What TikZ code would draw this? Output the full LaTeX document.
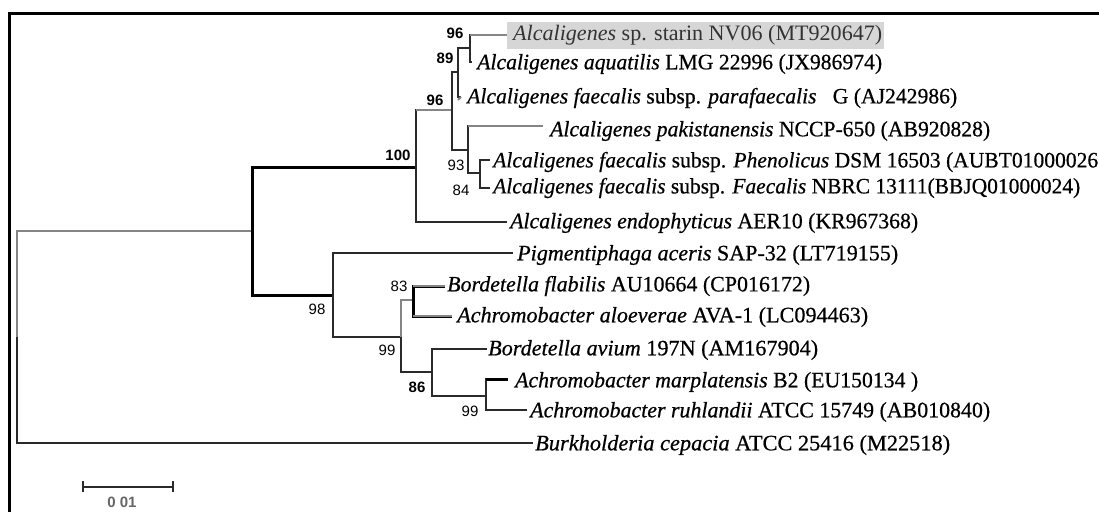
\documentclass[tikz,border=0pt]{standalone}
\usepackage{graphicx}
\usepackage{fontspec}
\setmainfont{Liberation Serif}
\newfontfamily\heavy[FakeBold=0.6]{Liberation Serif}
\newfontfamily\bsfont{Liberation Sans}
\newcommand{\fitw}[2]{\resizebox{#1}{\height}{#2}}
\definecolor{treeK}{HTML}{2A2A2A}
\definecolor{treeG}{HTML}{858585}
\definecolor{hilite}{HTML}{D6D6D6}
\begin{document}
\begin{tikzpicture}[x=1pt,y=-1pt,
  br/.style={line width=2pt,draw=treeK},
  brg/.style={line width=2pt,draw=treeG},
  brb/.style={line width=3pt,draw=black},
  leaf/.style={anchor=west,inner sep=0pt,font=\heavy\fontsize{22}{26}\selectfont},
  bs/.style={inner sep=0pt,font=\bsfont\fontsize{15}{17}\selectfont},
  bsb/.style={inner sep=0pt,font=\bsfont\bfseries\fontsize{15}{17}\selectfont}]
\useasboundingbox (0,0) rectangle (1099,512);
% frame
\draw[line width=3pt,line join=miter] (9,512) -- (9,13) -- (1099,13);
% internal nodes
\coordinate (nR) at (17,337);
\coordinate (nA) at (252,231);
\coordinate (n100) at (416,167);
\coordinate (n96L) at (452,110);
\coordinate (n89) at (458,72);
\coordinate (n96T) at (470,48);
\coordinate (nX) at (468,150);
\coordinate (n93) at (480,173);
\coordinate (n98) at (333,295);
\coordinate (n99) at (401,337);
\coordinate (n83) at (413,300);
\coordinate (n86) at (432,372);
\coordinate (n99L) at (486,396);
% tips
\coordinate (t1) at (507,35);
\coordinate (t2) at (472,62);
\coordinate (t3) at (461,97);
\coordinate (t4) at (543,126);
\coordinate (t5) at (490,160);
\coordinate (t6) at (490,188);
\coordinate (t7) at (507,222);
\coordinate (t8) at (513,253);
\coordinate (t9) at (445,286);
\coordinate (t10) at (452,316);
\coordinate (t11) at (487,349);
\coordinate (t12) at (508,379);
\coordinate (t13) at (527,410);
\coordinate (t14) at (533,443);
% branches
\draw[brg] (nR) |- (nA);
\draw[br] (nR) |- (t14);
\draw[brb] (nA) |- (n100);
\draw[brb] (nA) |- (n98);
\draw[br] (n100) |- (n96L);
\draw[br] (n100) |- (t7);
\draw[brg,line width=2.5pt] (n100 |- n96L) -- (n96L);
\draw[br] (n96L) |- (n89);
\draw[br] (n96L) |- (nX);
\draw[br] (n89) |- (n96T);
\draw[br] (n89) |- (t3);
\draw[brg] ([yshift=-3pt]n89 |- t3) -- (t3);
\draw[br] (n96T) |- (t1);
\draw[brg] (n96T |- t1) -- (t1);
\draw[br] (n96T) |- (t2);
\draw[br] (nX) |- (t4);
\draw[brg,line width=2.5pt] (nX |- t4) -- (t4);
\draw[br] (nX) |- (n93);
\draw[br] (n93) |- (t5);
\draw[br] (n93) |- (t6);
\draw[br] (n98) |- (t8);
\draw[br] (n98) |- (n99);
\draw[brg] (n99) |- (n83);
\draw[br] (n99) |- (n86);
\draw[brb] (n83) |- (t9);
\draw[brb] (n83) |- (t10);
\draw[brg] (n83 |- t9) -- (t9);
\draw[brg,line width=2.5pt] (n83 |- t10) -- (t10);
\draw[br] (n86) |- (t11);
\draw[br] (n86) |- (n99L);
\draw[br] (n99L) |- (t12);
\draw[brb] (n99L |- t12) -- (t12);
\draw[br] (n99L) |- (t13);
% leaf labels
\node[anchor=west,inner xsep=0pt,inner ysep=3.5pt,fill=hilite,text=black!80,
  font=\fontsize{22}{26}\selectfont] (l1) at (507,35.5)
  {\hspace*{6pt}\fitw{369pt}{\textit{Alcaligenes} sp. starin NV06 (MT920647)}\hspace*{2pt}};
\node[leaf] (l2) at (477,64) {\fitw{405pt}{\textit{Alcaligenes aquatilis} LMG 22996 (JX986974)}};
\node[leaf] (l3) at (467,98) {\fitw{490pt}{\textit{Alcaligenes faecalis} subsp. \textit{parafaecalis}\ \ \ G (AJ242986)}};
\node[leaf] (l4) at (550,131) {\fitw{440pt}{\textit{Alcaligenes pakistanensis} NCCP-650 (AB920828)}};
\node[leaf] (l5) at (493,162) {\fitw{605pt}{\textit{Alcaligenes faecalis} subsp. \textit{Phenolicus} DSM 16503 (AUBT01000026}};
\node[leaf] (l6) at (493,188) {\fitw{587pt}{\textit{Alcaligenes faecalis} subsp. \textit{Faecalis} NBRC 13111(BBJQ01000024)}};
\node[leaf] (l7) at (510,223) {\fitw{408pt}{\textit{Alcaligenes endophyticus} AER10 (KR967368)}};
\node[leaf] (l8) at (517,255) {\fitw{381pt}{\textit{Pigmentiphaga aceris} SAP-32 (LT719155)}};
\node[leaf] (l9) at (447,286) {\fitw{363pt}{\textit{Bordetella flabilis} AU10664 (CP016172)}};
\node[leaf] (l10) at (457,317) {\fitw{411pt}{\textit{Achromobacter aloeverae} AVA-1 (LC094463)}};
\node[leaf] (l11) at (488,350) {\fitw{330pt}{\textit{Bordetella avium} 197N (AM167904)}};
\node[leaf] (l12) at (515,382) {\fitw{403pt}{\textit{Achromobacter marplatensis} B2 (EU150134 )}};
\node[leaf] (l13) at (530,412) {\fitw{460pt}{\textit{Achromobacter ruhlandii} ATCC 15749 (AB010840)}};
\node[leaf] (l14) at (535,445) {\fitw{415pt}{\textit{Burkholderia cepacia} ATCC 25416 (M22518)}};
% bootstrap values
\node[bsb] (b1) at (455,33) {96};
\node[bsb] (b2) at (445,58) {89};
\node[bsb] (b3) at (435,100) {96};
\node[bsb] (b4) at (398,155) {100};
\node[bs] (b5) at (456,165) {93};
\node[bs] (b6) at (461,190) {84};
\node[bs] (b7) at (317,309) {98};
\node[bs] (b8) at (399,286) {83};
\node[bs] (b9) at (387,350) {99};
\node[bsb] (b10) at (417,387) {86};
\node[bs] (b11) at (470,411) {99};
% scale bar
\coordinate (s1) at (83,487);
\coordinate (s2) at (173,487);
\draw[br] (s1) -- (s2);
\draw[br] ([yshift=-5pt]s1) -- ([yshift=6pt]s1);
\draw[br] ([yshift=-5pt]s2) -- ([yshift=6pt]s2);
\node[bsb,text=black!60] (sl) at (122,502) {0 01};
\end{tikzpicture}
\end{document}
